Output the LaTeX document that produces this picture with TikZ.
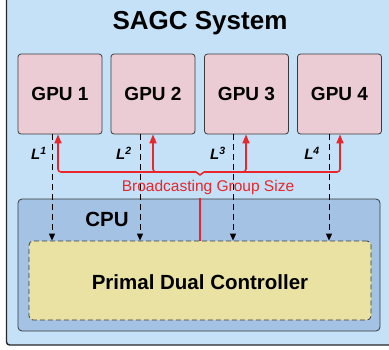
\documentclass[tikz,border=0pt]{standalone}
\usepackage{fontspec}
\setmainfont{Liberation Sans}
\usetikzlibrary{arrows.meta,calc}
\definecolor{outerblue}{HTML}{C4E1F7}
\definecolor{gpupink}{HTML}{EBCCD4}
\definecolor{cpublue}{HTML}{A4C2E3}
\definecolor{pdcyellow}{HTML}{EAE2A3}
\definecolor{bred}{HTML}{E8262B}
\definecolor{edge}{HTML}{3A3A3A}
\begin{document}
\begin{tikzpicture}[x=1pt,y=-1pt,
  gpu/.style={draw=edge, line width=0.8pt, fill=gpupink, rounded corners=3pt,
    minimum width=84pt, minimum height=80pt, inner sep=0pt,
    font=\bfseries\fontsize{19}{19}\selectfont},
  cpubox/.style={draw=edge, line width=0.8pt, fill=cpublue, rounded corners=4pt,
    minimum width=362pt, minimum height=132pt, inner sep=0pt},
  pdcbox/.style={draw=edge, line width=0.8pt, fill=pdcyellow, rounded corners=4pt,
    dash pattern=on 5pt off 3pt, minimum width=342pt, minimum height=79pt, inner sep=0pt},
  boldtxt/.style={font=\bfseries\fontsize{20.5}{20.5}\selectfont, inner sep=0pt},
  llabel/.style={font=\bfseries\itshape\fontsize{15}{15}\selectfont, inner sep=0pt},
  dasharrow/.style={draw=black, line width=1pt, dash pattern=on 6pt off 4pt,
    -{Triangle[length=7pt,width=6pt]}},
  redarrow/.style={draw=bred, line width=1.6pt, rounded corners=3pt,
    -{Triangle[length=9pt,width=7pt]}},
  redline/.style={draw=bred, line width=1.6pt},
]
\useasboundingbox (0,0) rectangle (389,349);
\clip (0,0) rectangle (389,349);
\draw[fill=outerblue, draw=black!85, line width=1.4pt, rounded corners=3pt]
  (6.5,-10) rectangle (400,345);

\node[font=\bfseries\fontsize{26}{26}\selectfont, inner sep=0pt] (title) at (200,23) {SAGC System};

\node[gpu] (g1) at (60,94) {GPU 1};
\node[gpu] (g2) at (153,94) {GPU 2};
\node[gpu] (g3) at (246.5,94) {GPU 3};
\node[gpu] (g4) at (339.5,94) {GPU 4};

\node[cpubox] (cpu) at (199,265) {};
\node[boldtxt] (cpulbl) at (107,219) {CPU};
\node[pdcbox] (pdc) at (200,280.5) {};
\node[boldtxt] (pdclbl) at (200,282) {Primal Dual Controller};

% dashed arrows
\coordinate (d1) at (52,0);
\coordinate (d2) at (140,0);
\coordinate (d3) at (233,0);
\coordinate (d4) at (329,0);
\draw[dasharrow] (g1.south -| d1) -- (pdc.north -| d1);
\draw[dasharrow] (g2.south -| d2) -- (pdc.north -| d2);
\draw[dasharrow] (g3.south -| d3) -- (pdc.north -| d3);
\draw[dasharrow] (g4.south -| d4) -- (pdc.north -| d4);

\node[llabel] (l1) at (39,153) {L\textsuperscript{1}};
\node[llabel] (l2) at (124,153) {L\textsuperscript{2}};
\node[llabel] (l3) at (218,153) {L\textsuperscript{3}};
\node[llabel] (l4) at (312,153) {L\textsuperscript{4}};

% red broadcast
\coordinate (bus) at (200,172);
\coordinate (r1) at (58,0);
\coordinate (r2) at (153,0);
\coordinate (r3) at (246,0);
\coordinate (r4) at (340,0);
\draw[redline, line join=round] ($(bus)+(-4,0)$) -- ($(bus)+(0,3)$) -- ($(bus)+(4,0)$);
\draw[redarrow] ($(bus)+(-4,0)$) -| (g1.south -| r1);
\draw[redarrow] ($(bus)+(-4,0)$) -| (g2.south -| r2);
\draw[redarrow] ($(bus)+(4,0)$) -| (g3.south -| r3);
\draw[redarrow] ($(bus)+(4,0)$) -| (g4.south -| r4);
\node[text=bred, font=\fontsize{15.5}{15.5}\selectfont, inner sep=0pt] (bcast) at (208,187) {Broadcasting Group Size};
\draw[redline] ($(bcast.south -| bus)+(0,4)$) -- (pdc.north -| bus);
\end{tikzpicture}
\end{document}
